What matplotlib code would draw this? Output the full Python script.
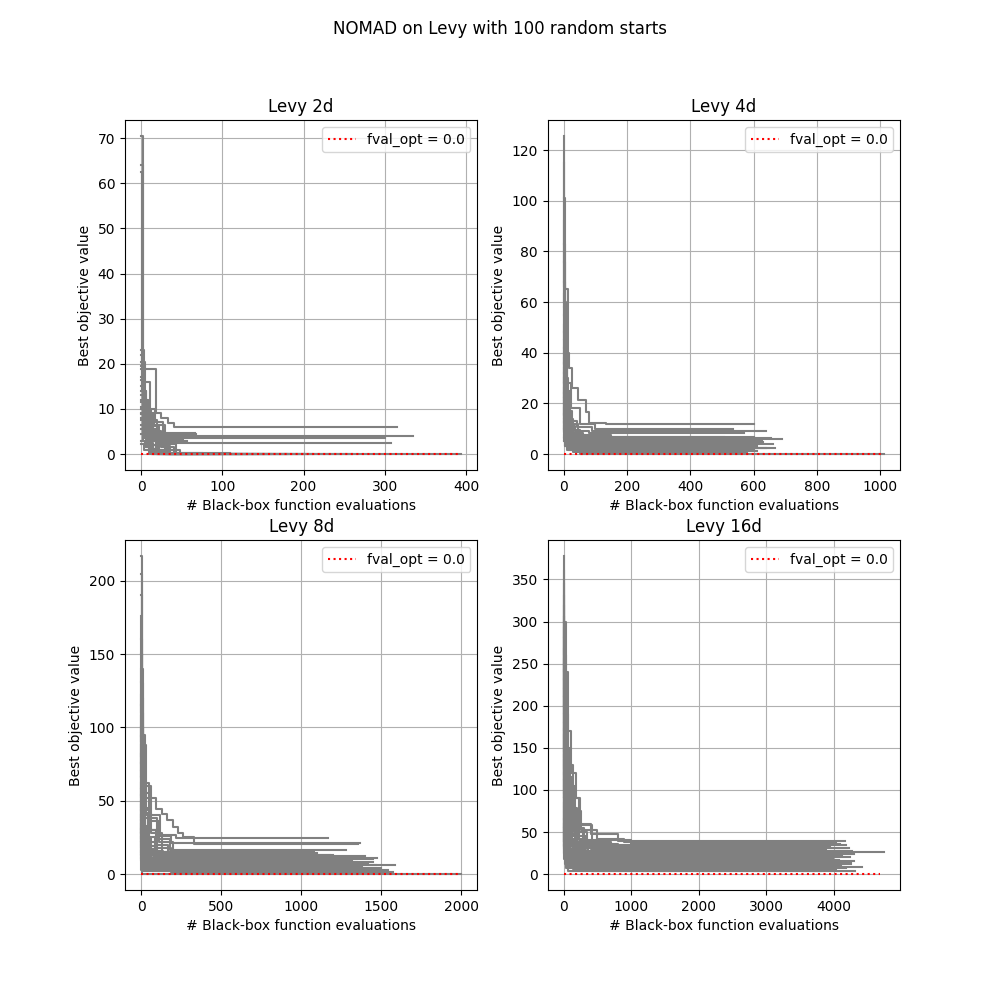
import matplotlib
matplotlib.use("Agg")
import matplotlib.pyplot as plt

# best-so-far traces: (evaluation, best value) breakpoints
runs_2d = [
    [(0, 70.5), (2, 9.5), (6, 4.0), (14, 0.6), (30, 0.05), (394, 0.05)],
    [(0, 64.0), (2, 12.0), (9, 3.0), (18, 0.1), (210, 0.1)],
    [(0, 62.5), (1, 20.3), (5, 8.0), (12, 2.0), (22, 0.1), (180, 0.1)],
    [(0, 23.0), (4, 11.2), (10, 5.5), (20, 1.0), (35, 0.02), (260, 0.02)],
    [(0, 20.3), (3, 11.0), (10, 4.5), (20, 2.3), (43, 0.05), (160, 0.05)],
    [(0, 18.8), (19, 9.0), (25, 7.9), (33, 6.8), (40, 6.0), (315, 6.0)],
    [(0, 12.0), (3, 10.0), (12, 7.5), (20, 4.0), (335, 4.0)],
    [(0, 8.0), (5, 5.0), (28, 3.6), (300, 3.6)],
    [(0, 10.0), (2, 6.0), (15, 3.3), (24, 2.4), (308, 2.4)],
    [(0, 16.5), (2, 12.0), (8, 9.0), (16, 6.5), (30, 4.4), (68, 4.4)],
    [(0, 14.0), (6, 8.5), (14, 4.8), (26, 3.0), (56, 3.0)],
    [(0, 22.0), (1, 14.0), (6, 7.0), (13, 3.8), (25, 1.5), (40, 0.1), (120, 0.1)],
    [(0, 6.5), (4, 3.5), (10, 1.2), (20, 0.05), (95, 0.05)],
    [(0, 11.5), (7, 8.0), (12, 6.2), (22, 4.2), (30, 1.0), (48, 0.05), (140, 0.05)],
    [(0, 9.0), (3, 5.5), (9, 2.5), (15, 0.2), (75, 0.2)],
    [(0, 17.0), (4, 11.5), (9, 8.8), (15, 5.2), (24, 2.8), (33, 0.2), (110, 0.2)],
    [(0, 4.5), (6, 2.0), (15, 0.1), (60, 0.1)],
    [(0, 13.0), (2, 9.5), (5, 5.8), (11, 3.2), (18, 0.8), (30, 0.05), (200, 0.05)],
    [(0, 7.5), (2, 4.8), (8, 2.6), (13, 1.0), (26, 0.1), (150, 0.1)],
    [(0, 19.5), (2, 16.0), (11, 10.0), (17, 7.0), (27, 4.6), (66, 4.6)],
    [(0, 3.0), (5, 1.5), (12, 0.1), (85, 0.1)],
    [(0, 15.0), (3, 9.8), (7, 6.6), (14, 3.9), (22, 1.8), (36, 0.1), (130, 0.1)],
    [(0, 10.5), (5, 7.2), (10, 5.0), (20, 3.4), (52, 3.4)],
    [(0, 5.5), (3, 3.0), (7, 1.6), (12, 0.1), (70, 0.1)],
    [(0, 8.8), (4, 6.0), (9, 4.2), (17, 2.9), (31, 0.1), (100, 0.1)],
    [(0, 2.2), (4, 0.9), (10, 0.1), (45, 0.1)],
]

runs_4d = [
    [(0, 125.6), (1, 66), (4, 38), (10, 17), (25, 8.5), (60, 5.2), (120, 4.1), (560, 4.1)],
    [(0, 115), (2, 60), (6, 30), (14, 14), (30, 7), (90, 3.2), (610, 3.2)],
    [(0, 101), (3, 52), (9, 25), (20, 12), (45, 6.1), (100, 5.5), (590, 5.5)],
    [(0, 92), (2, 45), (7, 22), (18, 9.5), (40, 4.8), (130, 2.6), (640, 2.6)],
    [(0, 83), (5, 65), (12, 40), (18, 33.8), (25, 26), (44, 21.3), (70, 16.7), (80, 12.4), (135, 11.7), (600, 11.7)],
    [(0, 76), (4, 48), (11, 28), (24, 18), (50, 12), (100, 9.9), (535, 9.9)],
    [(0, 68), (3, 40), (8, 21), (19, 13), (42, 10.5), (90, 9.3), (640, 9.3)],
    [(0, 63), (2, 35), (6, 18), (15, 11), (35, 9.2), (80, 8.5), (570, 8.5)],
    [(0, 58), (4, 30), (10, 16), (22, 9.5), (50, 7.5), (150, 6.9), (600, 6.9)],
    [(0, 55), (3, 33), (8, 15), (20, 8), (60, 5.8), (690, 5.8)],
    [(0, 51), (2, 28), (7, 14), (16, 7.5), (38, 4.2), (110, 3.8), (660, 3.8)],
    [(0, 48), (3, 25), (9, 12), (24, 6.6), (70, 5.0), (625, 5.0)],
    [(0, 45), (2, 22), (6, 11), (15, 5.5), (45, 2.5), (668, 2.5)],
    [(0, 42), (4, 20), (12, 9.8), (30, 6.0), (90, 4.5), (580, 4.5)],
    [(0, 40), (3, 18), (9, 8.6), (25, 4.0), (80, 1.2), (610, 1.2)],
    [(0, 38), (2, 21), (7, 12), (18, 7.2), (55, 6.3), (550, 6.3)],
    [(0, 36), (5, 17), (13, 8.8), (32, 5.2), (100, 3.0), (520, 3.0)],
    [(0, 34), (2, 15), (8, 7.6), (20, 4.4), (60, 2.0), (600, 2.0)],
    [(0, 32), (3, 19), (10, 10.5), (28, 7.0), (150, 6.6), (505, 6.6)],
    [(0, 30), (2, 14), (6, 6.5), (16, 3.5), (50, 0.15), (1012, 0.15)],
    [(0, 28), (3, 13), (9, 6.8), (30, 4.9), (120, 4.3), (615, 4.3)],
    [(0, 26), (2, 12), (7, 7.0), (19, 5.6), (70, 5.3), (575, 5.3)],
    [(0, 24), (4, 11), (11, 6.2), (26, 3.6), (85, 3.3), (595, 3.3)],
    [(0, 22), (2, 10), (6, 5.4), (16, 2.9), (45, 1.7), (545, 1.7)],
    [(0, 20), (3, 12.5), (9, 8.0), (22, 6.8), (110, 6.4), (655, 6.4)],
    [(0, 18), (2, 9.5), (8, 5.0), (20, 2.2), (60, 0.6), (580, 0.6)],
    [(0, 16), (4, 9.0), (12, 5.9), (40, 4.6), (630, 4.6)],
    [(0, 14), (2, 8.2), (7, 4.7), (20, 3.9), (540, 3.9)],
    [(0, 12.5), (3, 7.5), (10, 6.0), (30, 5.7), (610, 5.7)],
    [(0, 11), (2, 6.2), (6, 3.4), (18, 2.8), (585, 2.8)],
    [(0, 10), (4, 7.0), (12, 6.1), (620, 6.1)],
    [(0, 9), (3, 4.5), (10, 1.8), (30, 0.9), (560, 0.9)],
    [(0, 7.5), (2, 5.0), (8, 4.0), (600, 4.0)],
    [(0, 6.5), (5, 3.0), (15, 1.5), (570, 1.5)],
    [(0, 5), (3, 3.1), (10, 2.3), (650, 2.3)],
]

runs_8d = [
    [(0, 217), (4, 140), (12, 95), (25, 62), (50, 38), (100, 24), (180, 16.3), (1280, 16.3)],
    [(0, 205), (6, 130), (15, 88), (30, 60), (60, 40), (120, 27), (220, 24.7), (1169, 24.7)],
    [(0, 190), (5, 120), (14, 80), (28, 55), (55, 36), (110, 22), (200, 13), (1200, 13)],
    [(0, 176), (3, 110), (10, 70), (22, 45), (48, 30), (95, 18), (190, 11.3), (1475, 11.3)],
    [(0, 160), (4, 100), (12, 68), (26, 44), (52, 30), (100, 20), (170, 10.2), (1447, 10.2)],
    [(0, 150), (5, 95), (13, 62), (30, 42), (60, 28), (130, 15), (230, 6.1), (1585, 6.1)],
    [(0, 140), (3, 90), (9, 60), (20, 40), (45, 25), (90, 14), (160, 8.5), (1350, 8.5)],
    [(0, 131), (4, 85), (12, 60), (30, 52), (94, 44.7), (130, 41), (165, 37), (200, 32), (230, 28), (262, 25), (330, 20.4), (1356, 20.4)],
    [(0, 122), (3, 80), (10, 55), (25, 38), (55, 30), (110, 26), (190, 21.3), (1367, 21.3)],
    [(0, 115), (4, 75), (11, 50), (24, 33), (50, 22), (100, 13.5), (200, 7.4), (1300, 7.4)],
    [(0, 108), (2, 70), (8, 46), (18, 30), (40, 19), (85, 12), (160, 3.9), (1498, 3.9)],
    [(0, 100), (3, 66), (10, 44), (22, 28), (48, 17), (100, 10), (190, 1.6), (1575, 1.6)],
    [(0, 94), (4, 60), (12, 38), (28, 25), (60, 16), (140, 12.2), (1400, 12.2)],
    [(0, 88), (2, 58), (7, 36), (16, 22), (36, 14), (80, 9.4), (1250, 9.4)],
    [(0, 82), (3, 52), (9, 34), (21, 21), (45, 13), (95, 7.0), (1420, 7.0)],
    [(0, 76), (5, 48), (14, 32), (30, 20), (65, 14.5), (1100, 14.5)],
    [(0, 70), (2, 45), (8, 28), (20, 18), (45, 11), (100, 5.2), (1380, 5.2)],
    [(0, 66), (4, 42), (11, 27), (26, 16), (60, 10.8), (1330, 10.8)],
    [(0, 62), (3, 38), (9, 24), (22, 15), (50, 8.0), (1450, 8.0)],
    [(0, 58), (2, 36), (7, 22), (17, 13.5), (40, 9.8), (1230, 9.8)],
    [(0, 54), (4, 33), (12, 20), (30, 12.8), (1180, 12.8)],
    [(0, 50), (3, 30), (10, 18), (25, 11.5), (70, 4.6), (1360, 4.6)],
    [(0, 47), (2, 28), (8, 16), (20, 9.0), (55, 2.8), (1540, 2.8)],
    [(0, 44), (4, 26), (12, 15.5), (35, 15.2), (1080, 15.2)],
    [(0, 40), (3, 24), (9, 14), (24, 8.8), (1320, 8.8)],
    [(0, 37), (2, 22), (8, 13), (21, 6.5), (1470, 6.5)],
    [(0, 34), (3, 20), (10, 12), (28, 6.0), (1290, 6.0)],
    [(0, 31), (2, 18), (7, 11), (19, 3.2), (1240, 3.2)],
    [(0, 28), (4, 16), (12, 9.6), (1160, 9.6)],
    [(0, 25), (3, 14.5), (10, 7.8), (1410, 7.8)],
    [(0, 22), (2, 12.8), (8, 4.4), (1350, 4.4)],
    [(0, 19), (3, 10.6), (12, 2.2), (1500, 2.2)],
    [(0, 16), (2, 9.2), (9, 0.3), (2000, 0.3)],
    [(0, 13), (4, 5.6), (1270, 5.6)],
    [(0, 11), (3, 2.5), (1440, 2.5)],
]

runs_16d = [
    [(0, 378), (8, 300), (30, 240), (60, 170), (110, 120), (180, 90), (240, 60), (400, 48), (800, 39.7), (4163, 39.7)],
    [(0, 360), (6, 280), (25, 210), (55, 150), (100, 105), (170, 75), (260, 52), (500, 42), (900, 37.7), (4040, 37.7)],
    [(0, 345), (10, 260), (35, 190), (70, 130), (130, 90), (220, 58), (420, 40), (1000, 36), (4100, 36)],
    [(0, 330), (5, 250), (20, 180), (50, 120), (95, 80), (160, 55), (300, 38), (700, 34), (4180, 34)],
    [(0, 318), (8, 240), (30, 170), (65, 115), (118, 78), (200, 50), (350, 36), (800, 32), (3950, 32)],
    [(0, 305), (4, 230), (18, 160), (45, 110), (90, 72), (150, 50), (280, 35), (650, 30.5), (4220, 30.5)],
    [(0, 292), (7, 220), (28, 150), (60, 100), (115, 68), (190, 45), (330, 33), (900, 29), (3880, 29)],
    [(0, 280), (5, 210), (22, 145), (52, 95), (100, 62), (180, 42), (300, 31), (700, 28), (4272, 28)],
    [(0, 268), (9, 200), (32, 140), (70, 90), (130, 60), (220, 40), (400, 30), (1100, 26.6), (4745, 26.6)],
    [(0, 255), (6, 190), (24, 130), (55, 85), (105, 55), (175, 38), (310, 28), (800, 25.2), (4050, 25.2)],
    [(0, 242), (4, 180), (18, 120), (45, 80), (90, 52), (160, 36), (280, 26), (600, 23.8), (4301, 23.8)],
    [(0, 232), (8, 170), (30, 115), (65, 75), (120, 48), (200, 33), (360, 25), (900, 22.5), (3760, 22.5)],
    [(0, 220), (5, 160), (20, 108), (48, 70), (95, 45), (170, 31), (300, 23), (700, 21), (4120, 21)],
    [(0, 210), (7, 150), (26, 100), (58, 65), (110, 42), (190, 29), (330, 22), (800, 19.8), (4236, 19.8)],
    [(0, 200), (4, 145), (16, 95), (40, 62), (85, 40), (150, 28), (260, 20), (600, 18.5), (3990, 18.5)],
    [(0, 190), (6, 138), (22, 90), (50, 58), (100, 37), (170, 25), (290, 18.8), (3700, 18.8)],
    [(0, 180), (5, 130), (19, 85), (45, 55), (90, 35), (160, 23), (280, 17.2), (4080, 17.2)],
    [(0, 172), (8, 125), (28, 80), (60, 50), (115, 32), (200, 21), (350, 16), (3850, 16)],
    [(0, 165), (4, 118), (15, 76), (38, 48), (80, 30), (140, 20), (250, 14.7), (4262, 14.7)],
    [(0, 158), (6, 112), (22, 72), (52, 45), (100, 28), (175, 18), (320, 13.5), (3920, 13.5)],
    [(0, 150), (3, 105), (12, 68), (32, 42), (70, 26), (130, 16.5), (240, 12.2), (4150, 12.2)],
    [(0, 142), (5, 100), (18, 64), (42, 40), (85, 24), (150, 15), (280, 11), (3600, 11)],
    [(0, 135), (4, 95), (14, 60), (36, 37), (75, 22), (140, 13.5), (260, 9.8), (4000, 9.8)],
    [(0, 128), (6, 90), (20, 56), (48, 34), (95, 20), (170, 12), (300, 8.0), (4420, 8.0)],
    [(0, 120), (3, 85), (10, 52), (28, 31), (60, 18), (115, 10.5), (220, 6.8), (3880, 6.8)],
    [(0, 112), (5, 80), (16, 48), (40, 29), (80, 16), (150, 9.2), (4110, 9.2)],
    [(0, 104), (4, 74), (12, 45), (32, 27), (70, 14), (140, 5.6), (4040, 5.6)],
    [(0, 96), (2, 68), (8, 42), (20, 30), (50, 16), (100, 8), (400, 4.0), (3817, 4.0)],
    [(0, 90), (5, 64), (15, 40), (38, 26), (80, 21), (3500, 21)],
    [(0, 84), (3, 60), (10, 38), (26, 24), (60, 19.5), (3650, 19.5)],
    [(0, 78), (4, 55), (14, 35), (35, 24.5), (3980, 24.5)],
    [(0, 72), (2, 50), (8, 33), (22, 27.5), (4200, 27.5)],
    [(0, 66), (3, 46), (12, 31), (30, 22.2), (3580, 22.2)],
    [(0, 60), (2, 42), (8, 30), (24, 17.8), (3820, 17.8)],
    [(0, 55), (4, 38), (15, 26), (40, 15.5), (4300, 15.5)],
    [(0, 50), (2, 36), (10, 24), (28, 13.2), (3720, 13.2)],
    [(0, 45), (3, 32), (12, 20), (35, 10.4), (3930, 10.4)],
    [(0, 40), (2, 30), (9, 18), (30, 7.2), (4180, 7.2)],
    [(0, 34), (3, 25), (15, 12), (60, 3.2), (4320, 3.2)],
    [(0, 300), (3, 200), (12, 130), (30, 80), (70, 35), (130, 20), (300, 12.5), (4250, 12.5)],
    [(0, 250), (2, 150), (10, 90), (25, 50), (60, 25), (130, 11), (4050, 11)],
]

titles = ["Levy 2d", "Levy 4d", "Levy 8d", "Levy 16d"]
all_runs = [runs_2d, runs_4d, runs_8d, runs_16d]
opt_len = [394, 1012, 2000, 4690]  # extent of the fval_opt reference line
fval_opt = 0.0

fig = plt.figure(figsize=(10, 10), dpi=100)
fig.suptitle("NOMAD on Levy with 100 random starts")

for k in range(4):
    ax = fig.add_subplot(2, 2, k + 1)
    for run in all_runs[k]:
        xs = [p[0] for p in run]
        ys = [p[1] for p in run]
        ax.step(xs, ys, where='post', color='grey')
    ax.plot([0, opt_len[k]], [fval_opt, fval_opt], 'r:',
            label="fval_opt = " + str(fval_opt))
    ax.set_title(titles[k])
    ax.set_xlabel("# Black-box function evaluations")
    ax.set_ylabel("Best objective value")
    ax.legend(loc='upper right')
    ax.grid(True)

plt.savefig("out.png")
